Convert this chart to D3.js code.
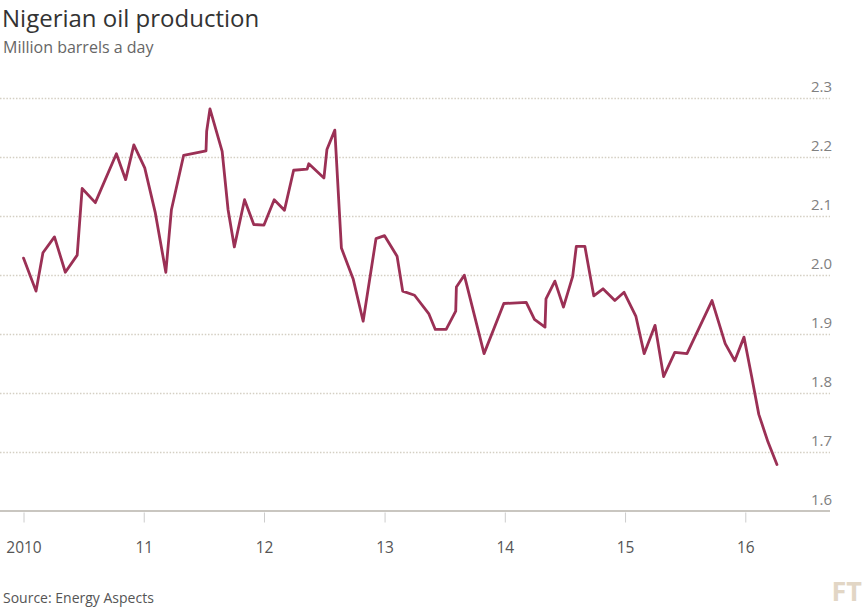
<!DOCTYPE html>
<html>
<head>
<meta charset="utf-8">
<script src="https://cdn.jsdelivr.net/npm/d3@7"></script>
<style>
  html, body { margin: 0; padding: 0; background: #fff; }
  svg { display: block; }
  text { font-family: "Open Sans", "Noto Sans", sans-serif; }
</style>
</head>
<body>
<svg id="chart" width="865" height="609"></svg>
<script>
const dates = [
  "2010-01-01","2010-02-08","2010-03-01","2010-04-05","2010-05-08","2010-06-13","2010-06-28","2010-08-07",
  "2010-10-10","2010-11-07","2010-12-02","2011-01-04","2011-02-05","2011-03-09","2011-03-26","2011-05-02",
  "2011-07-09","2011-07-11","2011-07-21","2011-08-27","2011-09-14","2011-10-03","2011-11-03","2011-12-01",
  "2012-01-01","2012-02-01","2012-03-03","2012-03-31","2012-05-11","2012-05-16","2012-07-01","2012-07-10",
  "2012-08-03","2012-08-23","2012-09-28","2012-10-28","2012-12-06","2013-01-01","2013-02-08","2013-02-25",
  "2013-04-02","2013-05-15","2013-06-04","2013-07-07","2013-08-05","2013-08-07","2013-08-31","2013-10-30",
  "2013-12-29","2014-03-07","2014-04-01","2014-05-03","2014-05-06","2014-06-02","2014-06-28","2014-07-26",
  "2014-08-06","2014-09-01","2014-09-28","2014-10-26","2014-12-01","2014-12-29","2015-02-03","2015-02-28",
  "2015-04-02","2015-04-28","2015-06-01","2015-07-08","2015-09-22","2015-11-01","2015-11-30","2015-12-28",
  "2016-01-20","2016-02-11","2016-03-10","2016-04-06"
];
const production = [
  2.028,1.972,2.037,2.064,2.004,2.033,2.146,2.122,
  2.205,2.161,2.220,2.181,2.105,2.004,2.110,2.202,
  2.210,2.243,2.281,2.209,2.110,2.047,2.127,2.085,
  2.084,2.127,2.109,2.177,2.179,2.188,2.164,2.212,
  2.245,2.045,1.992,1.921,2.061,2.066,2.031,1.972,
  1.965,1.934,1.907,1.907,1.938,1.979,1.999,1.866,
  1.951,1.953,1.924,1.911,1.959,1.989,1.945,1.997,
  2.048,2.048,1.964,1.976,1.956,1.970,1.929,1.866,
  1.914,1.827,1.868,1.866,1.956,1.883,1.854,1.894,
  1.828,1.763,1.716,1.678
];
const yTicks = [1.6, 1.7, 1.8, 1.9, 2.0, 2.1, 2.2, 2.3];
const xTickYears = [2010, 2011, 2012, 2013, 2014, 2015, 2016];
const xTickLabels = ["2010", "11", "12", "13", "14", "15", "16"];
const title = "Nigerian oil production";
const subtitle = "Million barrels a day";
const source = "Source: Energy Aspects";

const parse = d3.timeParse("%Y-%m-%d");
const data = dates.map((d, i) => ({ date: parse(d), value: production[i] }));

const svg = d3.select("#chart");
const gridLeft = 0, gridRight = 830;

const x = d3.scaleTime()
  .domain([new Date(2010, 0, 1), new Date(2016, 0, 1)])
  .range([23.5, 745.3]);
const y = d3.scaleLinear().domain([1.6, 2.3]).range([510.5, 97.7]);

// Title & subtitle
svg.append("text").attr("x", 2).attr("y", 27)
  .attr("font-size", 24).attr("fill", "#333").text(title);
svg.append("text").attr("x", 3).attr("y", 53)
  .attr("font-size", 16).attr("fill", "#666").text(subtitle);

// Gridlines
const grid = svg.append("g");
grid.selectAll("line.grid").data(yTicks.filter(d => d > 1.6)).enter().append("line")
  .attr("class", "grid")
  .attr("x1", gridLeft).attr("x2", gridRight)
  .attr("y1", d => Math.round(y(d)) + 0.5).attr("y2", d => Math.round(y(d)) + 0.5)
  .attr("stroke", "#d4cfc3").attr("stroke-width", 1.5)
  .attr("stroke-dasharray", "1.5,1.7");

// Baseline
svg.append("line")
  .attr("x1", gridLeft).attr("x2", gridRight)
  .attr("y1", y(1.6) + 0.5).attr("y2", y(1.6) + 0.5)
  .attr("stroke", "#c9c6c0").attr("stroke-width", 2);

// Y labels (right side, above the gridline)
svg.append("g").selectAll("text").data(yTicks).enter().append("text")
  .attr("x", 832).attr("y", d => y(d) - 6)
  .attr("text-anchor", "end")
  .attr("font-size", 15).attr("fill", "#808080")
  .text(d => d.toFixed(1));

// X axis ticks & labels
const xAxis = d3.axisBottom(x)
  .tickValues(xTickYears.map(yr => new Date(yr, 0, 1)))
  .tickSize(10)
  .tickPadding(19)
  .tickFormat((d, i) => xTickLabels[i]);
const gx = svg.append("g").attr("transform", `translate(0,${y(1.6) + 2})`).call(xAxis);
gx.select(".domain").remove();
gx.selectAll(".tick line").attr("stroke", "#ccc").attr("stroke-width", 1);
gx.selectAll(".tick text")
  .attr("font-size", 15.5).attr("fill", "#555")
  .attr("font-family", "\"Open Sans\", sans-serif");

// Line
const line = d3.line().x(d => x(d.date)).y(d => y(d.value));
svg.append("path").datum(data)
  .attr("d", line)
  .attr("fill", "none")
  .attr("stroke", "#9b3055")
  .attr("stroke-width", 2.8)
  .attr("stroke-linejoin", "round")
  .attr("stroke-linecap", "round");

// Source
svg.append("text").attr("x", 3).attr("y", 603)
  .attr("font-size", 14).attr("fill", "#555").text(source);

// FT logo
svg.append("text").attr("x", 862).attr("y", 601)
  .attr("text-anchor", "end")
  .attr("font-family", "\"DejaVu Serif\", \"Liberation Serif\", serif")
  .attr("font-weight", "bold")
  .attr("font-size", 27).attr("fill", "#e2d6c5")
  .text("FT");
</script>
</body>
</html>
